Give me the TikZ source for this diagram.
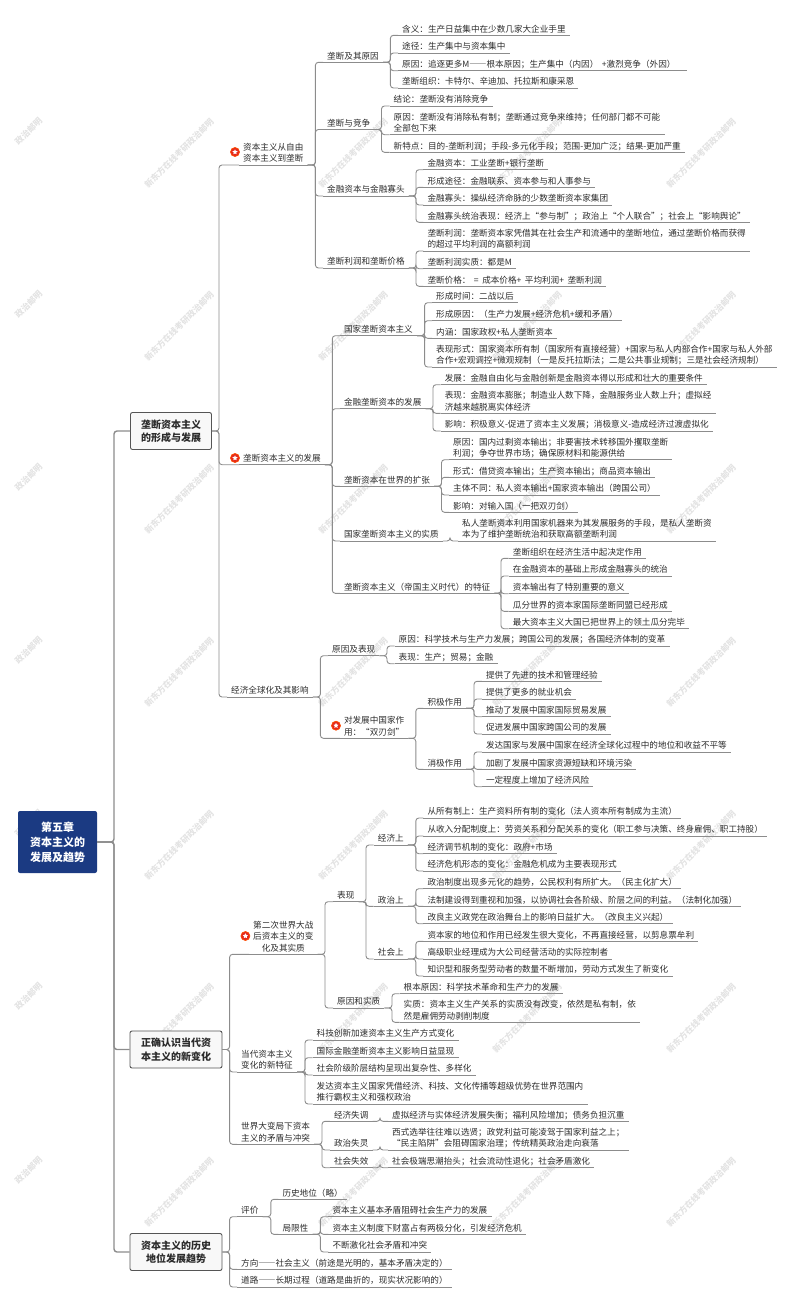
\documentclass[tikz,border=0pt]{standalone}
\usepackage{fontspec}
\setmainfont{Noto Sans CJK SC}
\newfontfamily\fullw[RawFeature={+fwid}]{Noto Sans CJK SC}
\newcommand{\leaffont}{\fontsize{8.6}{11.2}\selectfont}
\newcommand{\gap}{\hspace{3.5pt}}
\usetikzlibrary{shapes.geometric}
\definecolor{linegray}{HTML}{8C8C8C}
\definecolor{textgray}{HTML}{2B2B2B}
\definecolor{navy}{HTML}{1B3A82}
\definecolor{boxfill}{HTML}{F8F8F8}
\definecolor{boxline}{HTML}{555555}
\definecolor{badgered}{HTML}{E4291C}
\tikzstyle{link} = [draw=linegray, line width=0.9pt, rounded corners=3pt]
\tikzstyle{biglink} = [draw=linegray, line width=1.4pt, rounded corners=3pt]
\tikzstyle{leaf} = [anchor=south west, inner xsep=4pt, inner ysep=0pt, text depth=3pt, align=left, text=textgray, font=\leaffont, append after command={(\tikzlastnode.south west) edge[link] (\tikzlastnode.south east)}]
\tikzstyle{rootbox} = [rectangle, rounded corners=2pt, minimum width=79pt, minimum height=62pt, fill=navy, text=white, align=center, font=\fontsize{11}{15}\selectfont\bfseries]
\tikzstyle{mainbox} = [rectangle, rounded corners=2pt, minimum height=37pt, draw=boxline, line width=0.9pt, fill=boxfill, text=textgray, align=center, font=\fontsize{10}{13.5}\selectfont\bfseries]
\tikzstyle{badgestar} = [star, star points=5, star point ratio=2, minimum size=5.5pt, inner sep=0pt, fill=white]
\tikzstyle{badge} = [circle, minimum size=9pt, inner sep=0pt, fill=badgered, draw=orange!60!red, line width=0.7pt, label={[badgestar]center:}]
\tikzstyle{wmark} = [rotate=45, text=gray!22, font=\fontsize{8.5}{10}\selectfont\bfseries]
\begin{document}
\begin{tikzpicture}[x=1pt,y=-1pt]
\useasboundingbox (0,0) rectangle (800,1309);

\foreach \px in {179,353,527,701}
  \foreach \py in {153,326,499,672,845,1018,1192}
    \node (wm\px-\py) [wmark] at (\px,\py) {新东方在线考研政治邮明};
\foreach \py in {131.5,304.5,477.5,650.5,823.5,996.5,1170.5}
  \node (wl\py) [wmark] at (28.5,\py) {政治邮明};

\node (root) [rootbox] at (57.5,842) {第五章\\资本主义的\\发展及趋势};
\node (m1) [mainbox, minimum width=81pt] at (171,431) {垄断资本主义\\的形成与发展};
\node (m2) [mainbox, minimum width=92pt] at (176,1049.5) {正确认识当代资\\本主义的新变化};
\node (m3) [mainbox, minimum width=92pt] at (176,1252) {资本主义的历史\\地位发展趋势};

\node (free) [leaf] at (239,165) {资本主义从自由\\资本主义到垄断};
\node (fb) [badge] at (235,152) {};
\node (dev) [leaf] at (239,464.7) {垄断资本主义的发展};
\node (db) [badge] at (235,458) {};
\node (glob) [leaf] at (227,697) {经济全球化及其影响};

\node (cause) [leaf] at (323,62.3) {垄断及其原因};
\node (c1) [leaf] at (398,35.3) {含义：生产日益集中在少数几家大企业手里};
\node (c2) [leaf] at (398,53) {途径：生产集中与资本集中};
\node (c3) [leaf] at (398,70.7) {原因：追逐更多M{\fullw ——}根本原因；生产集中（内因）\gap+激烈竞争（外因）\hspace*{7pt}};
\node (c4) [leaf] at (398,88) {垄断组织：卡特尔、辛迪加、托拉斯和康采恩};

\node (comp) [leaf] at (323,129.5) {垄断与竞争};
\node (cp1) [leaf] at (389.5,106) {结论：垄断没有消除竞争};
\node (cp2) [leaf] at (389.5,134.7) {原因：垄断没有消除私有制；垄断通过竞争来维持；任何部门都不可能\\全部包下来};
\node (cp3) [leaf] at (389.5,152.3) {新特点：目的-垄断利润；手段-多元化手段；范围-更加广泛；结果-更加严重};

\node (fin) [leaf] at (323,196) {金融资本与金融寡头};
\node (fin1) [leaf] at (423.3,169.7) {金融资本：工业垄断+银行垄断};
\node (fin2) [leaf] at (423.3,187.3) {形成途径：金融联系、资本参与和人事参与};
\node (fin3) [leaf] at (423.3,205) {金融寡头：操纵经济命脉的少数垄断资本家集团};
\node (fin4) [leaf] at (423.3,222.3) {金融寡头统治表现：经济上“参与制”；政治上“个人联合”；社会上“影响舆论”};

\node (prof) [leaf] at (323,268) {垄断利润和垄断价格};
\node (prof1) [leaf] at (423.3,251) {垄断利润：垄断资本家凭借其在社会生产和流通中的垄断地位，通过垄断价格而获得\\的超过平均利润的高额利润};
\node (prof2) [leaf] at (423.3,268.7) {垄断利润实质：都是M};
\node (prof3) [leaf] at (423.3,286.3) {垄断价格：\gap=\gap 成本价格+\gap 平均利润+\gap 垄断利润};

\node (state) [leaf] at (339.8,335.7) {国家垄断资本主义};
\node (st1) [leaf] at (432,302.7) {形成时间：二战以后};
\node (st2) [leaf] at (432,320.7) {形成原因：（生产力发展+经济危机+缓和矛盾）};
\node (st3) [leaf] at (432,338.3) {内涵：国家政权+私人垄断资本};
\node (st4) [leaf] at (432,367) {表现形式：国家资本所有制（国家所有直接经营）+国家与私人内部合作+国家与私人外部\\合作+宏观调控+微观规制（一是反托拉斯法；二是公共事业规制；三是社会经济规制）};

\node (fmon) [leaf] at (339.8,408.7) {金融垄断资本的发展};
\node (fm1) [leaf] at (440.6,384.7) {发展：金融自由化与金融创新是金融资本得以形成和壮大的重要条件};
\node (fm2) [leaf] at (440.6,413.3) {表现：金融资本膨胀；制造业人数下降，金融服务业人数上升；虚拟经\\济越来越脱离实体经济};
\node (fm3) [leaf] at (440.6,431) {影响：积极意义-促进了资本主义发展；消极意义-造成经济过渡虚拟化};

\node (expd) [leaf] at (339.8,486.3) {垄断资本在世界的扩张};
\node (ex1) [leaf] at (449,459.7) {原因：国内过剩资本输出；非要害技术转移国外攫取垄断\\利润；争夺世界市场；确保原材料和能源供给};
\node (ex2) [leaf] at (449,477.3) {形式：借贷资本输出；生产资本输出；商品资本输出};
\node (ex3) [leaf] at (449,495) {主体不同：私人资本输出+国家资本输出（跨国公司）};
\node (ex4) [leaf] at (449,512.3) {影响：对输入国（一把双刃剑）};

\node (ess) [leaf] at (339.8,541) {国家垄断资本主义的实质};
\node (ess1) [leaf] at (458,541) {私人垄断资本利用国家机器来为其发展服务的手段，是私人垄断资\\本为了维护垄断统治和获取高额垄断利润};

\node (imp) [leaf] at (339.8,593.3) {垄断资本主义（帝国主义时代）的特征};
\node (im1) [leaf] at (508.7,558.3) {垄断组织在经济生活中起决定作用};
\node (im2) [leaf] at (508.7,576) {在金融资本的基础上形成金融寡头的统治};
\node (im3) [leaf] at (508.7,593.7) {资本输出有了特别重要的意义};
\node (im4) [leaf] at (508.7,611.3) {瓜分世界的资本家国际垄断同盟已经形成};
\node (im5) [leaf] at (508.7,628.7) {最大资本主义大国已把世界上的领土瓜分完毕};

\node (gc) [leaf] at (328,655.7) {原因及表现};
\node (gc1) [leaf] at (394.5,646) {原因：科学技术与生产力发展；跨国公司的发展；各国经济体制的变革};
\node (gc2) [leaf] at (394.5,663.7) {表现：生产；贸易；金融};

\node (dbl) [leaf] at (339.8,738.3) {对发展中国家作\\用：“双刃剑”};
\node (bb) [badge] at (336,725.7) {};
\node (pos) [leaf] at (423.3,708.3) {积极作用};
\node (pos1) [leaf] at (481.8,681.3) {提供了先进的技术和管理经验};
\node (pos2) [leaf] at (481.8,699) {提供了更多的就业机会};
\node (pos3) [leaf] at (481.8,716.7) {推动了发展中国家国际贸易发展};
\node (pos4) [leaf] at (481.8,734) {促进发展中国家跨国公司的发展};
\node (neg) [leaf] at (423.3,769.3) {消极作用};
\node (neg1) [leaf] at (481.8,752) {发达国家与发展中国家在经济全球化过程中的地位和收益不平等};
\node (neg2) [leaf] at (481.8,769.3) {加剧了发展中国家资源短缺和环境污染};
\node (neg3) [leaf] at (481.8,786.7) {一定程度上增加了经济风险};

\node (post) [leaf, align=center] at (249,954.3) {第二次世界大战\\后资本主义的变\\化及其实质};
\node (pb) [badge] at (245.4,936) {};
\node (feat) [leaf] at (237,1072) {当代资本主义\\变化的新特征};
\node (world) [leaf] at (237,1144.3) {世界大变局下资本\\主义的矛盾与冲突};

\node (show) [leaf] at (333,901.7) {表现};
\node (eco) [leaf] at (373.7,845) {经济上};
\node (eco1) [leaf] at (423.3,818) {从所有制上：生产资料所有制的变化（法人资本所有制成为主流）};
\node (eco2) [leaf] at (423.3,836) {从收入分配制度上：劳资关系和分配关系的变化（职工参与决策、终身雇佣、职工持股）};
\node (eco3) [leaf] at (423.3,853.7) {经济调节机制的变化：政府+市场};
\node (eco4) [leaf] at (423.3,871) {经济危机形态的变化：金融危机成为主要表现形式};
\node (pol) [leaf] at (373.7,906.3) {政治上};
\node (pol1) [leaf] at (423.3,888.7) {政治制度出现多元化的趋势，公民权利有所扩大。（民主化扩大）};
\node (pol2) [leaf] at (423.3,906.3) {法制建设得到重视和加强，以协调社会各阶级、阶层之间的利益。（法制化加强）};
\node (pol3) [leaf] at (423.3,923.7) {改良主义政党在政治舞台上的影响日益扩大。（改良主义兴起）};
\node (soc) [leaf] at (373.7,959) {社会上};
\node (soc1) [leaf] at (423.3,941.3) {资本家的地位和作用已经发生很大变化，不再直接经营，以剪息票牟利};
\node (soc2) [leaf] at (423.3,959) {高级职业经理成为大公司经营活动的实际控制者};
\node (soc3) [leaf] at (423.3,976) {知识型和服务型劳动者的数量不断增加，劳动方式发生了新变化};

\node (real) [leaf] at (333,1008) {原因和实质};
\node (real1) [leaf] at (399.5,993.7) {根本原因：科学技术革命和生产力的发展};
\node (real2) [leaf] at (399.5,1022.3) {实质：资本主义生产关系的实质没有改变，依然是私有制，依\\然是雇佣劳动剥削制度};

\node (feat1) [leaf] at (312.5,1040) {科技创新加速资本主义生产方式变化};
\node (feat2) [leaf] at (312.5,1057.7) {国际金融垄断资本主义影响日益显现};
\node (feat3) [leaf] at (312.5,1075) {社会阶级阶层结构呈现出复杂性、多样化};
\node (feat4) [leaf] at (312.5,1104) {发达资本主义国家凭借经济、科技、文化传播等超级优势在世界范围内\\推行霸权主义和强权政治};

\node (wa) [leaf] at (329.8,1121.3) {经济失调};
\node (wa1) [leaf] at (388,1121.3) {虚拟经济与实体经济发展失衡；福利风险增加；债务负担沉重};
\node (wb) [leaf] at (329.8,1150) {政治失灵};
\node (wb1) [leaf] at (388,1150) {西式选举往往难以选贤；政党利益可能凌驾于国家利益之上；\\“民主陷阱”会阻碍国家治理；传统精英政治走向衰落};
\node (wc) [leaf] at (329.8,1167.7) {社会失效};
\node (wc1) [leaf] at (388,1167.7) {社会极端思潮抬头；社会流动性退化；社会矛盾激化};

\node (eval) [leaf] at (237,1216.7) {评价};
\node (hist) [leaf] at (278.3,1199.3) {历史地位（略）};
\node (lim) [leaf] at (278.3,1234.3) {局限性};
\node (lim1) [leaf] at (328.3,1216.7) {资本主义基本矛盾阻碍社会生产力的发展};
\node (lim2) [leaf] at (328.3,1234.3) {资本主义制度下财富占有两极分化，引发经济危机};
\node (lim3) [leaf] at (328.3,1252) {不断激化社会矛盾和冲突};
\node (dir) [leaf] at (237,1269.3) {方向{\fullw ——}社会主义（前途是光明的，基本矛盾决定的）};
\node (road) [leaf] at (237,1287) {道路{\fullw ——}长期过程（道路是曲折的，现实状况影响的）};

\foreach \p/\tx in {root/114,m1/219,m2/229.6,m3/229.6,free/315.4,dev/332.3,glob/320.4,cause/390.4,comp/381.5,fin/416,prof/416,state/424.6,fmon/433,expd/441.5,ess/450,imp/501,gc/387,dbl/415.8,pos/474,neg/474,post/325,show/366,eco/415.8,pol/415.8,soc/415.8,real/392,feat/305,world/322,wa/380,wb/380,wc/380,eval/270.8,lim/320.4}
  \coordinate (\p-t) at (\tx,0);

\foreach \c in {m1,m2,m3}
  \draw [biglink] (root.east) -- (root.east -| root-t) -- (\c.west -| root-t) -- (\c.west);
\foreach \p/\kids in {m1/{free,dev,glob},m2/{post,feat,world},m3/{eval,dir,road}}
  \foreach \c in \kids
    \draw [link] (\p.east) -- (\p.east -| \p-t) -- (\c.south west -| \p-t) -- (\c.south west);
\foreach \p/\kids in {free/{cause,comp,fin,prof},dev/{state,fmon,expd,ess,imp},glob/{gc,dbl},cause/{c1,c2,c3,c4},comp/{cp1,cp2,cp3},fin/{fin1,fin2,fin3,fin4},prof/{prof1,prof2,prof3},state/{st1,st2,st3,st4},fmon/{fm1,fm2,fm3},expd/{ex1,ex2,ex3,ex4},ess/{ess1},imp/{im1,im2,im3,im4,im5},gc/{gc1,gc2},dbl/{pos,neg},pos/{pos1,pos2,pos3,pos4},neg/{neg1,neg2,neg3},post/{show,real},show/{eco,pol,soc},eco/{eco1,eco2,eco3,eco4},pol/{pol1,pol2,pol3},soc/{soc1,soc2,soc3},real/{real1,real2},feat/{feat1,feat2,feat3,feat4},world/{wa,wb,wc},wa/{wa1},wb/{wb1},wc/{wc1},eval/{hist,lim},lim/{lim1,lim2,lim3}}
  \foreach \c in \kids
    \draw [link] (\p.south east) -- (\p.south east -| \p-t) -- (\c.south west -| \p-t) -- (\c.south west);

\end{tikzpicture}
\end{document}
